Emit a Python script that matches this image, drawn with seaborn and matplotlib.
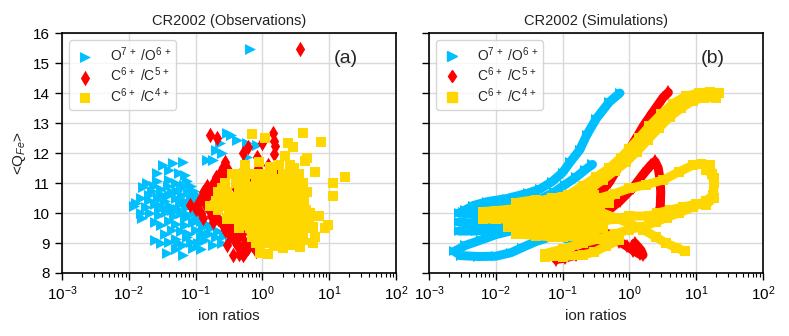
import numpy as np
import pandas as pd
import matplotlib
matplotlib.use('Agg')
import matplotlib.pyplot as plt
import seaborn as sns
from matplotlib.lines import Line2D
from matplotlib.ticker import LogLocator, NullFormatter, MultipleLocator

labels = [r'O$^{7\,+}$ /O$^{6\,+}$', r'C$^{6\,+}$ /C$^{5\,+}$', r'C$^{6\,+}$ /C$^{4\,+}$']
colors = ['#00BFFF', '#FF0000', '#FFD700']
markers = ['>', 'd', 's']

# ---- observations (ion ratio, <Q_Fe>) ----
obs_o7o6 = [
    (0.65, 15.46),
    (0.032, 11.6), (0.046, 11.67), (0.065, 11.7),
    (0.026, 11.33), (0.04, 11.43), (0.056, 11.33), (0.07, 11.27),
    (0.0187, 11.0), (0.026, 11.07), (0.04, 11.1), (0.05, 11.0), (0.075, 11.07), (0.086, 10.9),
    (0.0165, 10.87), (0.022, 10.75), (0.03, 10.8), (0.045, 10.7), (0.06, 10.85), (0.08, 10.7), (0.095, 10.75),
    (0.015, 10.5), (0.02, 10.45), (0.027, 10.55), (0.035, 10.4), (0.05, 10.5), (0.065, 10.45), (0.085, 10.55), (0.1, 10.4),
    (0.012, 10.25), (0.018, 10.2), (0.025, 10.3), (0.032, 10.2), (0.042, 10.25), (0.058, 10.3), (0.075, 10.2), (0.1, 10.2),
    (0.016, 9.85), (0.021, 10.0), (0.028, 9.95), (0.036, 10.05), (0.048, 9.9), (0.06, 10.0), (0.08, 9.95), (0.11, 9.9),
    (0.025, 9.7), (0.03, 9.6), (0.04, 9.75), (0.05, 9.65), (0.07, 9.6), (0.09, 9.7), (0.12, 9.75), (0.15, 9.65),
    (0.2, 9.7), (0.25, 9.8), (0.35, 9.75),
    (0.06, 9.4), (0.08, 9.3), (0.1, 9.45), (0.13, 9.35), (0.17, 9.5), (0.22, 9.4), (0.3, 9.45), (0.4, 9.5),
    (0.025, 9.1), (0.03, 9.0), (0.04, 9.05), (0.05, 9.15), (0.065, 8.95), (0.085, 9.05), (0.11, 9.0),
    (0.14, 9.1), (0.18, 8.95), (0.25, 9.0), (0.33, 9.05),
    (0.037, 8.67), (0.065, 8.6), (0.05, 8.8), (0.09, 8.85), (0.12, 8.8),
    (0.3, 12.67), (0.34, 12.6), (0.41, 12.43), (0.58, 12.33), (0.83, 12.27), (0.23, 12.33),
    (0.58, 11.87), (0.18, 11.77), (0.147, 11.77), (0.33, 11.43), (0.27, 11.1), (0.25, 12.0), (0.2, 12.1),
    (0.02, 10.6), (0.024, 10.9), (0.028, 10.15), (0.033, 10.6), (0.038, 10.9), (0.044, 10.1),
    (0.052, 10.75), (0.055, 10.15), (0.062, 10.6), (0.068, 10.95), (0.072, 10.35), (0.078, 10.8),
    (0.09, 10.3), (0.095, 10.05), (0.105, 10.6), (0.07, 9.85), (0.1, 9.75), (0.13, 9.55), (0.16, 9.3),
    (0.2, 9.2), (0.27, 9.25), (0.045, 9.45), (0.035, 9.3), (0.055, 9.0), (0.075, 9.2), (0.12, 9.2),
    (0.03, 10.5), (0.04, 10.6), (0.015, 10.0), (0.013, 10.35),
]

obs_c6c5 = [
    (3.65, 15.46),
    (0.164, 12.6), (0.21, 12.5), (0.6, 12.2), (0.52, 12.0), (0.98, 12.33), (1.45, 12.67), (1.5, 12.4),
    (1.55, 12.25), (1.48, 11.97), (0.83, 11.87), (1.6, 11.43), (0.87, 11.5), (0.082, 10.27),
    (0.36, 8.6), (0.52, 8.6),
    (0.28, 11.7), (0.26, 11.55), (0.3, 11.5), (0.24, 11.4), (0.27, 11.3), (0.2, 11.2), (0.23, 11.1),
    (0.18, 11.0), (0.21, 10.9), (0.15, 10.9), (0.13, 10.7), (0.17, 10.75), (0.12, 10.5), (0.15, 10.55),
    (0.11, 10.35), (0.14, 10.3), (0.1, 10.15), (0.12, 10.0), (0.16, 10.1), (0.13, 9.85), (0.17, 9.9),
    (0.2, 10.0), (0.22, 9.8), (0.18, 9.7), (0.25, 9.65), (0.3, 9.6), (0.28, 9.45), (0.35, 9.5),
    (0.4, 9.35), (0.33, 9.25), (0.45, 9.2), (0.5, 9.3), (0.38, 9.1), (0.3, 8.95), (0.42, 8.95),
    (0.55, 9.0), (0.48, 8.8), (0.6, 8.85), (0.65, 9.1), (0.75, 9.3), (0.7, 8.95), (0.85, 9.2),
    (1.0, 9.35), (0.9, 9.0), (0.8, 8.75), (0.55, 8.7), (0.45, 8.65), (0.2, 10.4), (0.22, 10.7),
    (0.19, 10.55), (0.25, 11.0), (0.5, 11.4), (0.9, 11.7), (1.2, 11.6), (0.7, 11.2), (1.0, 11.0),
    (1.3, 11.2), (0.4, 10.8), (0.6, 10.5), (0.8, 10.3), (1.1, 10.6), (1.5, 10.8), (1.2, 9.8),
    (0.95, 9.6), (0.65, 9.55),
]

obs_c6c4 = [
    (0.35, 11.3), (0.5, 11.3), (0.7, 11.3), (1.0, 11.3), (1.4, 11.3), (2.0, 11.3), (2.8, 11.3),
    (0.28, 11.0), (0.4, 11.0), (0.55, 11.0), (0.8, 11.0), (1.1, 11.0), (1.6, 11.0), (2.2, 11.0), (3.0, 11.0), (4.0, 11.0),
    (0.22, 10.7), (0.3, 10.7), (0.45, 10.7), (0.65, 10.7), (0.9, 10.7), (1.25, 10.7), (1.8, 10.7), (2.5, 10.7), (3.3, 10.7),
    (0.2, 10.4), (0.27, 10.4), (0.38, 10.4), (0.55, 10.4), (0.75, 10.4), (1.05, 10.4), (1.5, 10.4), (2.1, 10.4), (2.9, 10.4), (3.6, 10.4),
    (0.22, 10.1), (0.32, 10.1), (0.45, 10.1), (0.62, 10.1), (0.88, 10.1), (1.25, 10.1), (1.75, 10.1), (2.4, 10.1), (3.2, 10.1), (4.5, 10.1),
    (0.3, 9.8), (0.4, 9.8), (0.55, 9.8), (0.8, 9.8), (1.1, 9.8), (1.5, 9.8), (2.0, 9.8), (2.8, 9.8), (3.8, 9.8), (5.0, 9.8),
    (0.45, 9.5), (0.65, 9.5), (0.9, 9.5), (1.2, 9.5), (1.7, 9.5), (2.4, 9.5), (3.3, 9.5), (4.2, 9.5), (5.5, 9.5),
    (0.7, 9.2), (1.0, 9.2), (1.4, 9.2), (1.9, 9.2), (2.6, 9.2), (3.5, 9.2),
    (0.8, 9.0), (1.15, 9.0), (1.6, 9.0), (2.2, 9.0), (3.0, 9.0),
    (0.45, 11.15), (0.85, 11.15), (1.2, 11.15), (1.8, 11.15), (2.5, 11.15),
    (0.25, 10.85), (0.6, 10.85), (1.0, 10.85), (1.5, 10.85), (2.0, 10.85), (2.7, 10.85), (3.6, 10.85),
    (0.35, 10.55), (0.5, 10.55), (0.8, 10.55), (1.15, 10.55), (1.65, 10.55), (2.3, 10.55), (3.1, 10.55), (4.2, 10.55),
    (0.25, 10.25), (0.4, 10.25), (0.7, 10.25), (1.0, 10.25), (1.4, 10.25), (2.0, 10.25), (2.7, 10.25), (3.9, 10.25),
    (0.38, 9.95), (0.5, 9.95), (0.7, 9.95), (1.0, 9.95), (1.35, 9.95), (1.9, 9.95), (2.6, 9.95), (3.5, 9.95), (4.4, 9.95),
    (0.5, 9.65), (0.75, 9.65), (1.05, 9.65), (1.45, 9.65), (2.0, 9.65), (2.9, 9.65), (3.8, 9.65), (4.8, 9.65),
    (0.8, 9.35), (1.1, 9.35), (1.6, 9.35), (2.2, 9.35), (3.0, 9.35), (4.0, 9.35),
    (0.164, 10.23), (0.69, 12.63), (1.08, 12.5), (4.0, 12.67), (7.5, 12.37), (2.4, 12.33), (2.85, 12.2),
    (4.6, 11.83), (4.4, 11.75), (6.1, 11.37), (11.5, 11.0), (17.0, 11.2), (11.5, 10.57), (4.6, 10.7),
    (7.0, 9.9), (8.6, 9.5), (9.5, 9.6), (5.7, 9.0), (6.2, 9.2), (4.0, 9.1), (3.65, 8.87), (0.92, 8.67),
    (1.2, 8.63), (2.6, 8.93), (2.2, 11.9), (1.8, 11.6), (2.6, 11.6), (3.0, 11.5), (1.3, 11.55), (0.9, 11.7),
    (0.55, 11.6), (3.5, 11.3), (4.2, 10.35), (5.2, 10.0), (5.8, 9.55), (3.0, 8.95), (2.0, 8.85), (1.5, 8.9),
]

# ---- simulations: model trajectories (ion ratio, <Q_Fe>) ----
sim_o7o6 = [
    [(0.0032, 10.05), (0.0046, 10.25), (0.0075, 10.38), (0.0145, 10.48), (0.03, 10.66), (0.046, 10.8),
     (0.07, 11.05), (0.1, 11.35), (0.13, 11.7), (0.18, 12.1), (0.23, 12.6), (0.32, 13.15), (0.5, 13.7), (0.72, 14.0)],
    [(0.0035, 10.1), (0.006, 10.15), (0.01, 10.2), (0.018, 10.25), (0.03, 10.35), (0.05, 10.5),
     (0.075, 10.7), (0.11, 10.95), (0.16, 11.2), (0.22, 11.45), (0.28, 11.62)],
    [(0.05, 9.6), (0.03, 9.5), (0.018, 9.42), (0.01, 9.28), (0.006, 9.1), (0.0035, 8.92), (0.0024, 8.72),
     (0.003, 8.58), (0.0055, 8.55), (0.01, 8.56), (0.017, 8.68), (0.025, 8.85), (0.04, 9.05), (0.065, 9.2),
     (0.1, 9.2), (0.14, 9.05), (0.2, 9.1), (0.27, 9.4), (0.35, 9.8), (0.4, 10.1)],
    [(0.0028, 10.0), (0.005, 9.95), (0.01, 9.9), (0.02, 9.85), (0.04, 9.8), (0.07, 9.75)],
    [(0.0028, 9.4), (0.005, 9.4), (0.01, 9.45), (0.02, 9.5), (0.04, 9.6), (0.07, 9.7)],
    [(0.0028, 9.7), (0.005, 9.65), (0.01, 9.7), (0.02, 9.65), (0.04, 9.7)],
    [(0.008, 10.2), (0.015, 10.15), (0.025, 10.1), (0.04, 10.05)],
]

sim_c6c5 = [
    [(0.1, 10.05), (0.16, 10.15), (0.25, 10.35), (0.36, 10.65), (0.51, 11.05), (0.65, 11.45), (0.81, 11.8),
     (0.97, 12.05), (1.14, 12.33), (1.35, 12.6), (1.62, 12.9), (2.0, 13.2), (2.57, 13.55), (3.2, 13.85), (3.83, 14.02)],
    [(0.3, 9.75), (0.46, 10.05), (0.72, 10.4), (1.14, 10.85), (1.62, 11.3), (2.1, 11.6), (2.42, 11.72),
     (2.7, 11.5), (2.87, 11.15), (2.95, 10.7), (2.9, 10.2), (2.6, 9.9)],
    [(0.25, 9.8), (0.35, 9.5), (0.5, 9.25), (0.7, 9.05), (0.91, 8.9), (1.15, 8.75), (1.45, 8.62),
     (1.6, 8.6), (1.5, 8.75), (1.2, 9.0)],
    [(0.08, 8.45), (0.11, 8.5), (0.16, 8.6), (0.25, 8.75), (0.35, 8.9), (0.5, 9.05)],
]

sim_c6c4 = [
    [(0.12, 10.6), (0.2, 10.9), (0.32, 11.2), (0.5, 11.5), (0.75, 11.85), (1.0, 12.15), (1.4, 12.5),
     (2.0, 12.9), (3.0, 13.3), (4.5, 13.65), (7.0, 13.9), (11.0, 14.0), (16.0, 14.05), (22.0, 14.0)],
    [(0.15, 10.55), (0.25, 10.8), (0.4, 11.1), (0.6, 11.4), (0.9, 11.7), (1.3, 12.05), (1.9, 12.45),
     (2.8, 12.85), (4.0, 13.2), (6.0, 13.5), (9.0, 13.75), (13.0, 13.85), (20.0, 13.85)],
    [(0.0065, 10.05), (0.01, 10.08), (0.02, 10.15), (0.03, 10.3), (0.045, 10.4), (0.07, 10.5),
     (0.1, 10.55), (0.15, 10.6), (0.22, 10.7), (0.36, 10.5), (0.6, 10.65), (1.0, 10.82), (1.8, 10.95),
     (3.2, 11.1), (5.6, 11.38), (9.0, 11.6), (12.0, 11.65), (16.0, 11.6), (18.3, 11.16), (18.3, 10.5), (14.0, 10.27)],
    [(0.0065, 9.8), (0.01, 9.8), (0.02, 9.8), (0.03, 9.65), (0.05, 9.5), (0.08, 9.45), (0.12, 9.5),
     (0.2, 9.6), (0.36, 9.7), (0.6, 9.8), (1.0, 9.9), (2.0, 9.9), (2.6, 10.0), (4.0, 10.1), (6.3, 10.2),
     (10.0, 10.3), (14.0, 10.35)],
    [(0.02, 9.95), (0.04, 9.9), (0.06, 9.95), (0.1, 10.15), (0.2, 10.1), (0.36, 10.04), (0.6, 9.85),
     (1.0, 9.65), (1.6, 9.45), (2.5, 9.2), (3.5, 9.0), (5.0, 8.85), (6.8, 8.72)],
    [(0.055, 8.65), (0.1, 8.8), (0.2, 9.0), (0.36, 9.15), (0.6, 9.3), (1.0, 9.45), (1.6, 9.55),
     (2.5, 9.7), (3.6, 9.85), (5.5, 10.0), (9.0, 10.2), (14.0, 10.4), (18.0, 10.6), (18.5, 11.0),
     (17.0, 11.3), (14.0, 11.45)],
    [(0.055, 8.55), (0.1, 8.55), (0.2, 8.6), (0.3, 8.7), (0.45, 8.9), (0.7, 9.1)],
    [(0.04, 10.2), (0.08, 10.25), (0.15, 10.3), (0.3, 10.3), (0.5, 10.35)],
    [(0.02, 9.3), (0.04, 9.25), (0.07, 9.2), (0.1, 9.2), (0.15, 9.25), (0.25, 9.35), (0.4, 9.5)],
    [(0.015, 9.55), (0.03, 9.5), (0.06, 9.45), (0.1, 9.55), (0.2, 9.75), (0.35, 9.9)],
    [(0.01, 9.95), (0.03, 10.0), (0.06, 10.05), (0.1, 10.0), (0.2, 9.95), (0.4, 9.95)],
    [(0.02, 10.35), (0.04, 10.45), (0.08, 10.35), (0.15, 10.45), (0.3, 10.6)],
    [(0.03, 9.75), (0.06, 9.7), (0.12, 9.8), (0.25, 10.2), (0.5, 10.5)],
]

sns.set_style("whitegrid", {"axes.edgecolor": "black", "xtick.bottom": True, "ytick.left": True,
                            "grid.color": "#d9d9d9"})
plt.rcParams['font.family'] = ['Liberation Sans', 'DejaVu Sans']
plt.rcParams['mathtext.fontset'] = 'custom'
plt.rcParams['mathtext.rm'] = 'Liberation Sans'
plt.rcParams['mathtext.it'] = 'Liberation Sans:italic'
plt.rcParams['mathtext.bf'] = 'Liberation Sans:bold'

fig = plt.figure(figsize=(7.89, 3.36), dpi=100)
ax1 = fig.add_axes([0.0786, 0.1875, 0.4233, 0.714])
ax2 = fig.add_axes([0.5437, 0.1875, 0.4233, 0.714])

for pts, lab, c, m in zip([obs_o7o6, obs_c6c5, obs_c6c4], labels, colors, markers):
    df = pd.DataFrame(pts, columns=['ratio', 'q'])
    sns.scatterplot(data=df, x='ratio', y='q', marker=m, color=c, s=62, linewidth=0,
                    label=lab, ax=ax1)

for curves, c, m in zip([sim_o7o6, sim_c6c5, sim_c6c4], colors, markers):
    rows = []
    for i, curve in enumerate(curves):
        for r, q in curve:
            rows.append((i, r, q))
    df = pd.DataFrame(rows, columns=['curve', 'ratio', 'q'])
    sns.lineplot(data=df, x='ratio', y='q', units='curve', estimator=None, sort=False,
                 color=c, lw=6.5, marker=m, markersize=7.5, markeredgewidth=0, ax=ax2, legend=False)

for ax, title, tag in [(ax1, 'CR2002 (Observations)', '(a)'), (ax2, 'CR2002 (Simulations)', '(b)')]:
    ax.set_xscale('log')
    ax.set_xlim(1e-3, 1e2)
    ax.set_ylim(8, 16)
    ax.yaxis.set_major_locator(MultipleLocator(1))
    ax.xaxis.set_major_locator(LogLocator(base=10, numticks=10))
    ax.xaxis.set_minor_locator(LogLocator(base=10, subs=np.arange(2, 10), numticks=20))
    ax.xaxis.set_minor_formatter(NullFormatter())
    ax.tick_params(axis='both', which='major', direction='out', length=5, width=1, color='black',
                   labelsize=11, colors='black')
    ax.tick_params(axis='x', which='minor', direction='out', length=3, width=0.8, color='black')
    ax.grid(True, which='major', color='#d9d9d9', lw=1)
    ax.grid(False, which='minor')
    for sp in ax.spines.values():
        sp.set_color('black')
        sp.set_linewidth(1.2)
    ax.set_title(title, fontsize=10.5, color='#222222')
    ax.set_xlabel('ion ratios', fontsize=11, color='#222222')
    ax.text(0.85, 0.895, tag, transform=ax.transAxes, fontsize=14, ha='center', va='center')

ax1.set_ylabel(r'<Q$_{Fe}$>', fontsize=11, color='#222222')
ax2.set_ylabel('')
ax2.tick_params(labelleft=False)

leg_kw = dict(loc='upper left', fontsize=10, frameon=True, handletextpad=1.0, borderpad=0.35,
              labelspacing=0.15, handlelength=1.6, borderaxespad=0.5)
ax1.legend(**leg_kw)
handles = [Line2D([], [], ls='', marker=m, color=c, markersize=6.5) for c, m in zip(colors, markers)]
ax2.legend(handles, labels, **leg_kw)

fig.savefig('out.png', dpi=100)
